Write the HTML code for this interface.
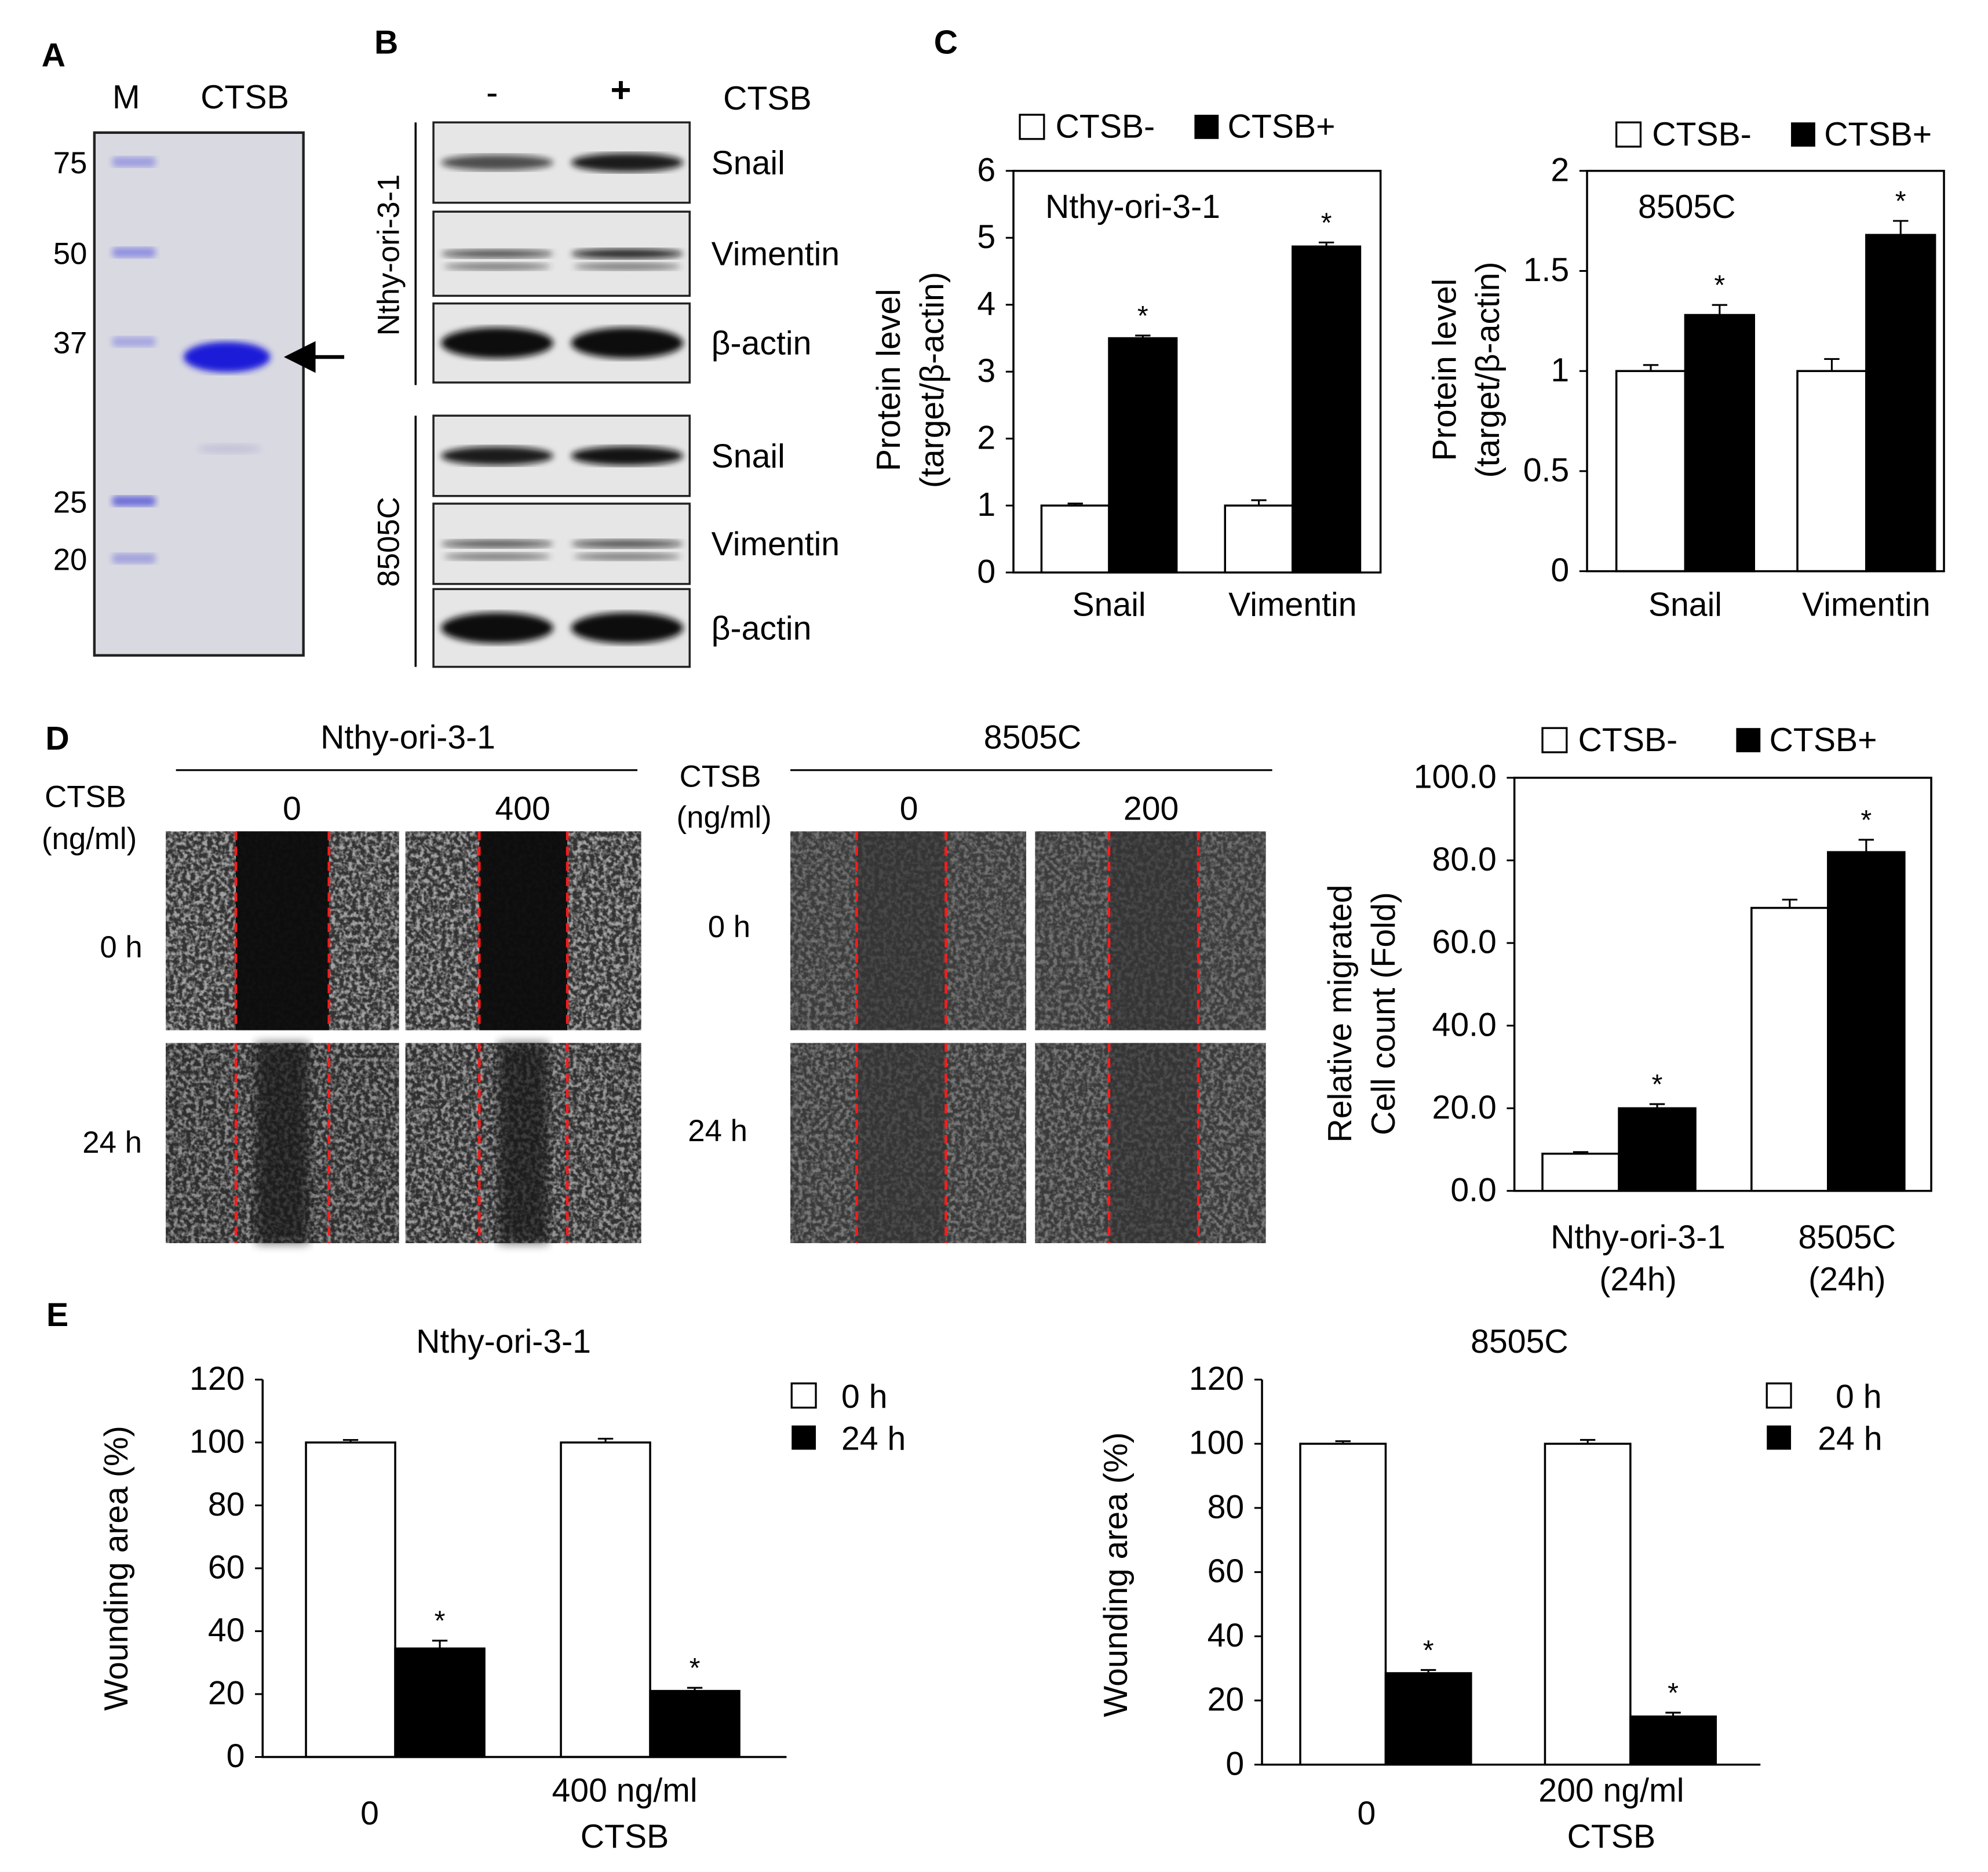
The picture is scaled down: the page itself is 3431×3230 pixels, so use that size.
<!DOCTYPE html>
<html><head><meta charset="utf-8">
<style>
html,body{margin:0;padding:0;background:#fff;}
svg{display:block;font-family:"Liberation Sans",Arial,sans-serif;}
</style></head>
<body>
<svg id="fig" width="3431" height="3230" viewBox="0 0 1559.5 1468.2" xmlns="http://www.w3.org/2000/svg">
<defs>
<filter id="noise" x="0" y="0" width="100%" height="100%">
<feTurbulence type="fractalNoise" baseFrequency="0.3" numOctaves="2" seed="3" result="t"/>
<feColorMatrix type="matrix" values="0 0 0 0 0.85  0 0 0 0 0.85  0 0 0 0 0.85  3.2 0 0 0 -1.25" in="t"/>
</filter>
<filter id="blur2"><feGaussianBlur stdDeviation="2.5"/></filter>
<filter id="blur4"><feGaussianBlur stdDeviation="4"/></filter>
</defs>
<g id="root" font-size="24" fill="#000"></g>
</svg>
<script>
// ---- data ----
const cLeftCats = ["Snail", "Vimentin"];
const cLeftNeg = [1.0, 1.0];
const cLeftNegErr = [0.03, 0.08];
const cLeftPos = [3.5, 4.87];
const cLeftPosErr = [0.04, 0.06];
const cLeftTicks = [0, 1, 2, 3, 4, 5, 6];

const cRightCats = ["Snail", "Vimentin"];
const cRightNeg = [1.0, 1.0];
const cRightNegErr = [0.03, 0.06];
const cRightPos = [1.28, 1.68];
const cRightPosErr = [0.05, 0.07];
const cRightTicks = [0, 0.5, 1, 1.5, 2];
const cRightTickLabels = ["0", "0.5", "1", "1.5", "2"];

const dCats = [["Nthy-ori-3-1", "(24h)"], ["8505C", "(24h)"]];
const dNeg = [9.0, 68.5];
const dNegErr = [0.4, 2.0];
const dPos = [20.0, 82.0];
const dPosErr = [1.0, 3.0];
const dTicks = [0, 20, 40, 60, 80, 100];
const dTickLabels = ["0.0", "20.0", "40.0", "60.0", "80.0", "100.0"];

const eLeftCats = [["0"], ["400 ng/ml", "CTSB"]];
const eLeft0h = [100, 100];
const eLeft0hErr = [0.8, 1.2];
const eLeft24h = [34.5, 21.0];
const eLeft24hErr = [2.5, 1.0];
const eRightCats = [["0"], ["200 ng/ml", "CTSB"]];
const eRight0h = [100, 100];
const eRight0hErr = [0.8, 1.2];
const eRight24h = [28.5, 15.0];
const eRight24hErr = [1.0, 1.2];
const eTicks = [0, 20, 40, 60, 80, 100, 120];

// ---- helpers ----
const NS = "http://www.w3.org/2000/svg";
const root = document.getElementById("root");
function mk(tag, attrs, parent) {
  const e = document.createElementNS(NS, tag);
  for (const k in attrs) e.setAttribute(k, attrs[k]);
  (parent || root).appendChild(e);
  return e;
}
function txt(x, y, s, name, opts) {
  opts = opts || {};
  const t = mk("text", {x: x, y: y, "text-anchor": opts.anchor || "middle", "font-size": opts.size || 24, "font-weight": opts.weight || "normal"}, opts.parent);
  if (opts.rot) t.setAttribute("transform", "rotate(-90 " + x + " " + y + ")");
  t.textContent = s;
  
  
  return t;
}
function rect(x, y, w, h, fill, name, extra) {
  const r = mk("rect", Object.assign({x: x, y: y, width: w, height: h, fill: fill}, extra || {}));
  
  
  return r;
}
function line(x1, y1, x2, y2, name, extra) {
  const l = mk("line", Object.assign({x1: x1, y1: y1, x2: x2, y2: y2, stroke: "#000", "stroke-width": 1.6}, extra || {}));
  
  
  return l;
}

function barChart(c) {
  const g = mk("g", {});
  
  
  const ys = v => c.y0 - (v - c.vmin) / (c.vmax - c.vmin) * (c.y0 - c.y1);
  c.ticks.forEach((t, i) => {
    const lab = c.tickLabels ? c.tickLabels[i] : String(t);
    txt(c.x0 - 14, ys(t) + 8, lab, "y-tick-label", {anchor: "end", size: c.tickSize || 24, parent: g});
  });
  c.cats.forEach((cat, i) => {
    const gx = c.groupX[i];
    [[c.s1, c.e1, "#fff", "series1"], [c.s2, c.e2, "#000", "series2"]].forEach((s, j) => {
      const v = s[0][i];
      const x = gx + j * c.bw;
      const y = ys(v);
      const b = mk("rect", {x: x, y: y, width: c.bw, height: ys(c.vmin) - y, fill: s[2], stroke: "#000", "stroke-width": 1.6}, g);
      
      
      const ey = ys(v + s[1][i]);
      const cx = x + c.bw / 2;
      const err = mk("path", {d: "M" + cx + " " + y + "V" + ey + "M" + (cx - 6) + " " + ey + "H" + (cx + 6), stroke: "#000", "stroke-width": 1.4, fill: "none"}, g);
      
      
      if (j === 1 && c.stars) txt(cx, ey - 8, "*", "significance-star", {size: 22, parent: g});
    });
    const lines = Array.isArray(cat) ? cat : [cat];
    const off = (lines.length === 1 && c.catDy) ? c.catDy / 2 : 0;
    lines.forEach((l, k) => txt(gx + c.bw + (c.catDx || 0), c.catY + off + k * c.catDy, l, "x-category-label", {size: c.catSize || 26, parent: g}));
  });
  if (c.box) {
    const b = mk("rect", {x: c.x0, y: c.y1, width: c.x1 - c.x0, height: c.y0 - c.y1, fill: "none", stroke: "#000", "stroke-width": 1.6}, g);
    
    
  } else {
    const a = mk("path", {d: "M" + c.x0 + " " + c.y1 + "V" + c.y0 + "H" + c.x1, stroke: "#000", "stroke-width": 1.6, fill: "none"}, g);
    
    
  }
  c.ticks.forEach(t => {
    const tk = mk("line", {x1: c.x0 - 6, y1: ys(t), x2: c.x0, y2: ys(t), stroke: "#000", "stroke-width": 1.4}, g);
    
    
  });
  return g;
}

function legendPair(x1, x2, y, l1, l2, name) {
  rect(x1, y - 18, 19, 19, "#fff", name + "-swatch-neg", {stroke: "#000", "stroke-width": 1.5});
  txt(x1 + 28, y, l1, name + "-label-neg", {anchor: "start", size: 26});
  rect(x2, y - 18, 19, 19, "#000", name + "-swatch-pos");
  txt(x2 + 26, y, l2, name + "-label-pos", {anchor: "start", size: 26});
}

// ---- panel letters ----
txt(42, 52, "A", "panel-label-a", {weight: "bold", size: 26});
txt(303, 42, "B", "panel-label-b", {weight: "bold", size: 26});
txt(742, 42, "C", "panel-label-c", {weight: "bold", size: 26});
txt(45, 588, "D", "panel-label-d", {weight: "bold", size: 26});
txt(45, 1040, "E", "panel-label-e", {weight: "bold", size: 26});

// ---- panel A ----
rect(74, 104, 164, 410, "#d9d9e2", "sds-page-gel", {stroke: "#222", "stroke-width": 2});
txt(99, 85, "M", "marker-lane-label", {size: 26});
txt(192, 85, "CTSB", "ctsb-lane-label", {size: 26});
const ladderY = [127, 198, 268, 393, 438];
const ladderLab = ["75", "50", "37", "25", "20"];
const ladderCol = ["#9b9be0", "#8f8fe0", "#a5a5e2", "#6a6ad8", "#a0a0dc"];
ladderY.forEach((y, i) => {
  const e = mk("rect", {x: 88, y: y - 4, width: 34, height: 8, rx: 3, fill: ladderCol[i], filter: "url(#blur2)"});
  
  
  txt(55, y + 9, ladderLab[i], "marker-size-label", {size: 24});
});
const band = mk("ellipse", {cx: 178, cy: 280, rx: 34, ry: 12, fill: "#1b1bd8", filter: "url(#blur2)"});


const faint = mk("ellipse", {cx: 180, cy: 352, rx: 25, ry: 4, fill: "#c4c4d8", filter: "url(#blur2)"});


const arr = mk("path", {d: "M270 280H240M226 280L246 270L246 290Z", stroke: "#000", "stroke-width": 3, fill: "#000"});



// ---- panel B ----
txt(386, 82, "-", "minus-label", {size: 28});
txt(487, 80, "+", "plus-label", {size: 28, weight: "bold"});
txt(602, 86, "CTSB", "ctsb-header", {size: 26});
const blotRows = [[96, 159, "Snail", 0.55, 0.9], [166, 232, "Vimentin", 0.5, 0.8], [238, 300, "β-actin", 1, 1],
                  [326, 389, "Snail", 0.9, 0.95], [395, 458, "Vimentin", 0.45, 0.5], [462, 523, "β-actin", 1, 1]];
blotRows.forEach((r, i) => {
  rect(340, r[0], 201, r[1] - r[0], "#e6e6e6", "blot-" + r[2].toLowerCase() + "-" + i, {stroke: "#222", "stroke-width": 1.6});
  const cy = (r[0] + r[1]) / 2;
  const thick = r[2] === "β-actin" ? 11 : (r[2] === "Vimentin" ? 4 : 7);
  [[390, r[3]], [492, r[4]]].forEach(b => {
    const e = mk("ellipse", {cx: b[0], cy: cy, rx: 44, ry: thick * (0.6 + 0.5 * b[1]), fill: "#111", opacity: 0.35 + 0.65 * b[1], filter: "url(#blur2)"});
    
    
    if (r[2] === "Vimentin") {
      const e2 = mk("ellipse", {cx: b[0], cy: cy + 10, rx: 42, ry: 3, fill: "#333", opacity: 0.6, filter: "url(#blur2)"});
      
      
    }
  });
  txt(558, cy + 9, r[2], "blot-target-label", {anchor: "start", size: 26});
});
line(326, 96, 326, 302, "nthy-bracket");
line(326, 326, 326, 523, "8505c-bracket");
txt(313, 200, "Nthy-ori-3-1", "nthy-cell-label", {rot: true, size: 24});
txt(313, 425, "8505C", "8505c-cell-label", {rot: true, size: 24});

// ---- panel C ----
legendPair(800, 937, 108, "CTSB-", "CTSB+", "legend-c-left");
barChart({name: "chart-c-left", x0: 795, x1: 1083, y0: 449, y1: 134, vmin: 0, vmax: 6, ticks: cLeftTicks,
  cats: cLeftCats, groupX: [817, 961], bw: 53, s1: cLeftNeg, e1: cLeftNegErr, s2: cLeftPos, e2: cLeftPosErr,
  stars: true, box: true, catY: 483, catDy: 0, catSize: 26, tickSize: 26});
txt(820, 171, "Nthy-ori-3-1", "chart-c-left-title", {anchor: "start", size: 26});
txt(706, 298, "Protein level", "y-axis-title", {rot: true, size: 26});
txt(740, 298, "(target/β-actin)", "y-axis-title", {rot: true, size: 26});

legendPair(1268, 1405, 114, "CTSB-", "CTSB+", "legend-c-right");
barChart({name: "chart-c-right", x0: 1245, x1: 1525, y0: 448, y1: 134, vmin: 0, vmax: 2, ticks: cRightTicks, tickLabels: cRightTickLabels,
  cats: cRightCats, groupX: [1268, 1410], bw: 54, s1: cRightNeg, e1: cRightNegErr, s2: cRightPos, e2: cRightPosErr,
  stars: true, box: true, catY: 483, catDy: 0, catSize: 26, tickSize: 26});
txt(1285, 171, "8505C", "chart-c-right-title", {anchor: "start", size: 26});
txt(1142, 290, "Protein level", "y-axis-title", {rot: true, size: 26});
txt(1176, 290, "(target/β-actin)", "y-axis-title", {rot: true, size: 26});

// ---- panel D: wound images ----
txt(320, 587, "Nthy-ori-3-1", "nthy-title", {size: 26});
line(138, 604, 500, 604, "nthy-rule", {"stroke-width": 1.4});
txt(810, 587, "8505C", "8505c-title", {size: 26});
line(620, 604, 998, 604, "8505c-rule", {"stroke-width": 1.4});
txt(67, 633, "CTSB", "ctsb-dose-label", {size: 24});
txt(70, 666, "(ng/ml)", "ctsb-unit-label", {size: 24});
txt(229, 643, "0", "dose-0", {size: 26});
txt(410, 643, "400", "dose-400", {size: 26});
txt(565, 617, "CTSB", "ctsb-dose-label", {size: 24});
txt(568, 649, "(ng/ml)", "ctsb-unit-label", {size: 24});
txt(713, 643, "0", "dose-0", {size: 26});
txt(903, 643, "200", "dose-200", {size: 26});
txt(95, 751, "0 h", "time-0h", {size: 24});
txt(88, 904, "24 h", "time-24h", {size: 24});
txt(572, 735, "0 h", "time-0h", {size: 24});
txt(563, 895, "24 h", "time-24h", {size: 24});
const imgs = [
  [130, 652, 183, 156, 185, 258, "#333", "#0c0c0c", 0.6],
  [318, 652, 185, 156, 376, 445, "#333", "#0c0c0c", 0.6],
  [130, 818, 183, 157, 185, 258, "#2e2e2e", "#141414", 0.5],
  [318, 818, 185, 157, 376, 445, "#303030", "#141414", 0.55],
  [620, 652, 185, 156, 672, 742, "#3c3c3c", "#2e2e2e", 0.3],
  [812, 652, 181, 156, 870, 940, "#3c3c3c", "#2e2e2e", 0.3],
  [620, 818, 185, 157, 672, 742, "#3a3a3a", "#303030", 0.35],
  [812, 818, 181, 157, 870, 940, "#3a3a3a", "#303030", 0.35]];
imgs.forEach((m, i) => {
  rect(m[0], m[1], m[2], m[3], m[6], "wound-image-" + i);
  const gw = m[5] - m[4];
  const nz = mk("rect", {x: m[0], y: m[1], width: m[2], height: m[3], fill: "#fff", filter: "url(#noise)", opacity: m[8]});
  
  
  const partial = (i === 2 || i === 3);
  const gap = mk("rect", {x: m[4] + (partial ? gw * 0.22 : 0), y: m[1], width: partial ? gw * 0.56 : gw, height: m[3], fill: m[7], opacity: partial ? 0.7 : (i < 2 ? 0.97 : 0.6)});
  if (partial) gap.setAttribute("filter", "url(#blur4)");
  
  
  [m[4], m[5]].forEach(x => line(x, m[1], x, m[1] + m[3], "wound-edge-line", {stroke: "#ff1a1a", "stroke-width": 2, "stroke-dasharray": "7 5"}));
});

// ---- panel D chart ----
legendPair(1210, 1362, 589, "CTSB-", "CTSB+", "legend-d");
barChart({name: "chart-d-migration", x0: 1188, x1: 1515, y0: 934, y1: 610, vmin: 0, vmax: 100, ticks: dTicks, tickLabels: dTickLabels,
  cats: dCats, groupX: [1210, 1374], bw: 60, s1: dNeg, e1: dNegErr, s2: dPos, e2: dPosErr,
  stars: true, box: true, catY: 979, catDy: 33, catSize: 26, tickSize: 26, catDx: 15});
txt(1060, 795, "Relative migrated", "y-axis-title", {rot: true, size: 26});
txt(1094, 795, "Cell  count (Fold)", "y-axis-title", {rot: true, size: 26});

// ---- panel E ----
txt(395, 1061, "Nthy-ori-3-1", "chart-e-left-title", {size: 26});
barChart({name: "chart-e-left", x0: 206, x1: 617, y0: 1378, y1: 1082, vmin: 0, vmax: 120, ticks: eTicks,
  cats: eLeftCats, groupX: [240, 440], bw: 70, s1: eLeft0h, e1: eLeft0hErr, s2: eLeft24h, e2: eLeft24hErr,
  stars: true, box: false, catY: 1413, catDy: 36, catSize: 26, tickSize: 26, catDx: -20});
txt(100, 1230, "Wounding area (%)", "y-axis-title", {rot: true, size: 26});
rect(621, 1085, 19, 19, "#fff", "legend-e-left-0h", {stroke: "#000", "stroke-width": 1.5});
txt(660, 1104, "0 h", "legend-e-left-0h-label", {anchor: "start", size: 26});
rect(621, 1118, 19, 19, "#000", "legend-e-left-24h");
txt(660, 1137, "24 h", "legend-e-left-24h-label", {anchor: "start", size: 26});

txt(1192, 1061, "8505C", "chart-e-right-title", {size: 26});
barChart({name: "chart-e-right", x0: 990, x1: 1381, y0: 1384, y1: 1082, vmin: 0, vmax: 120, ticks: eTicks,
  cats: eRightCats, groupX: [1020, 1212], bw: 67, s1: eRight0h, e1: eRight0hErr, s2: eRight24h, e2: eRight24hErr,
  stars: true, box: false, catY: 1413, catDy: 36, catSize: 26, tickSize: 26, catDx: -15});
txt(884, 1235, "Wounding area (%)", "y-axis-title", {rot: true, size: 26});
rect(1386, 1085, 19, 19, "#fff", "legend-e-right-0h", {stroke: "#000", "stroke-width": 1.5});
txt(1440, 1104, "0 h", "legend-e-right-0h-label", {anchor: "start", size: 26});
rect(1386, 1118, 19, 19, "#000", "legend-e-right-24h");
txt(1426, 1137, "24 h", "legend-e-right-24h-label", {anchor: "start", size: 26});
</script>
</body></html>
